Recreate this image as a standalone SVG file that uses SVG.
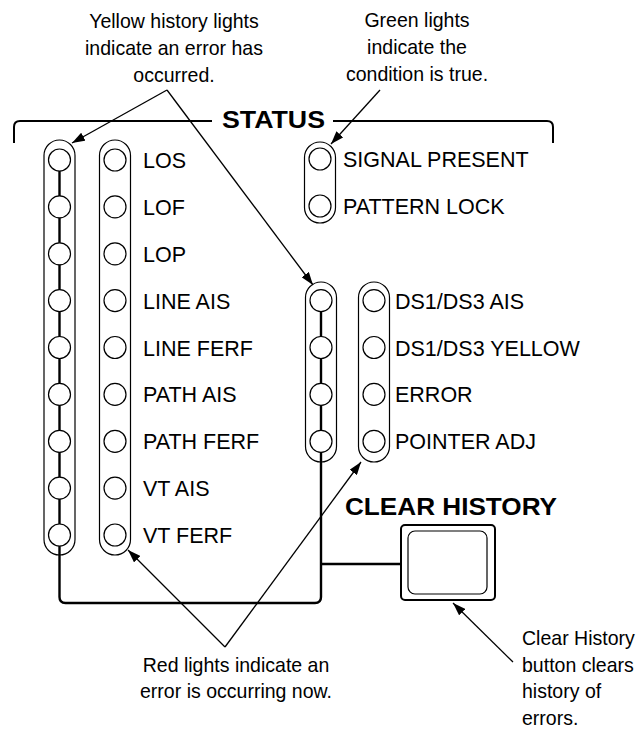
<svg xmlns="http://www.w3.org/2000/svg" width="636" height="731" viewBox="0 0 636 731">
<style>
text{font-family:"Liberation Sans",Arial,sans-serif;fill:#000}
.lbl{font-size:21.5px}
.ann{font-size:21px}
.hdr{font-size:23px;font-weight:bold}
.cap{fill:none;stroke:#000;stroke-width:1.2}
.led{fill:#fff;stroke:#000;stroke-width:1.2}
.wire{fill:none;stroke:#000;stroke-width:2.4}
.lead{fill:none;stroke:#000;stroke-width:1.3;marker-end:url(#ah)}
.frame{fill:none;stroke:#000;stroke-width:2}
</style>
<defs>
<marker id="ah" markerUnits="userSpaceOnUse" markerWidth="14" markerHeight="9" refX="13" refY="4.5" orient="auto">
<path d="M0,0 L13,4.5 L0,9 z" fill="#000"/>
</marker>
</defs>

<g id="status-frame">
<path class="frame" d="M14,143 V127 Q14,121 20,121 H212"/>
<path class="frame" d="M333,121 H547 Q553,121 553,127 V143"/>
<text class="hdr" x="222" y="128" textLength="103" lengthAdjust="spacingAndGlyphs">STATUS</text>
</g>

<g id="connectors">
<path class="wire" d="M59.5,160 V597 Q59.5,603 65.5,603 H315 Q321,603 321,597 V300.6"/>
<path class="wire" d="M321,564 H401"/>
<path class="lead" d="M167,90 L72,143"/>
<path class="lead" d="M167,90 L313,285"/>
<path class="lead" d="M380,90 L331,144"/>
<path class="lead" d="M225,647 L128,550"/>
<path class="lead" d="M225,647 L361,462"/>
<path class="lead" d="M513,662 L453,603"/>
</g>

<g id="yellow-history-left">
<rect class="cap" x="44" y="140" width="31" height="415" rx="15.5"/>
<circle class="led" cx="59.5" cy="160" r="11"/>
<circle class="led" cx="59.5" cy="206.9" r="11"/>
<circle class="led" cx="59.5" cy="253.8" r="11"/>
<circle class="led" cx="59.5" cy="300.6" r="11"/>
<circle class="led" cx="59.5" cy="347.5" r="11"/>
<circle class="led" cx="59.5" cy="394.4" r="11"/>
<circle class="led" cx="59.5" cy="441.3" r="11"/>
<circle class="led" cx="59.5" cy="488.1" r="11"/>
<circle class="led" cx="59.5" cy="535" r="11"/>
</g>

<g id="red-left">
<rect class="cap" x="99.5" y="140" width="31" height="415" rx="15.5"/>
<circle class="led" cx="115" cy="160" r="11"/>
<circle class="led" cx="115" cy="206.9" r="11"/>
<circle class="led" cx="115" cy="253.8" r="11"/>
<circle class="led" cx="115" cy="300.6" r="11"/>
<circle class="led" cx="115" cy="347.5" r="11"/>
<circle class="led" cx="115" cy="394.4" r="11"/>
<circle class="led" cx="115" cy="441.3" r="11"/>
<circle class="led" cx="115" cy="488.1" r="11"/>
<circle class="led" cx="115" cy="535" r="11"/>
<text class="lbl" x="143" y="168">LOS</text>
<text class="lbl" x="143" y="214.9">LOF</text>
<text class="lbl" x="143" y="261.8">LOP</text>
<text class="lbl" x="143" y="308.6">LINE AIS</text>
<text class="lbl" x="143" y="355.5">LINE FERF</text>
<text class="lbl" x="143" y="402.4">PATH AIS</text>
<text class="lbl" x="143" y="449.3">PATH FERF</text>
<text class="lbl" x="143" y="496.1">VT AIS</text>
<text class="lbl" x="143" y="543">VT FERF</text>
</g>

<g id="green">
<rect class="cap" x="304.5" y="142" width="31" height="81" rx="15.5"/>
<circle class="led" cx="320" cy="159" r="11"/>
<circle class="led" cx="320" cy="206" r="11"/>
<text class="lbl" x="343" y="167">SIGNAL PRESENT</text>
<text class="lbl" x="343" y="214">PATTERN LOCK</text>
</g>

<g id="yellow-history-mid">
<rect class="cap" x="305.5" y="282" width="31" height="180" rx="15.5"/>
<circle class="led" cx="321" cy="300.6" r="11"/>
<circle class="led" cx="321" cy="347.5" r="11"/>
<circle class="led" cx="321" cy="394.4" r="11"/>
<circle class="led" cx="321" cy="441.3" r="11"/>
</g>

<g id="red-mid">
<rect class="cap" x="358.5" y="282" width="31" height="180" rx="15.5"/>
<circle class="led" cx="374" cy="300.6" r="11"/>
<circle class="led" cx="374" cy="347.5" r="11"/>
<circle class="led" cx="374" cy="394.4" r="11"/>
<circle class="led" cx="374" cy="441.3" r="11"/>
<text class="lbl" x="395" y="308.6">DS1/DS3 AIS</text>
<text class="lbl" x="395" y="355.5">DS1/DS3 YELLOW</text>
<text class="lbl" x="395" y="402.4">ERROR</text>
<text class="lbl" x="395" y="449.3">POINTER ADJ</text>
</g>

<g id="clear-history">
<text class="hdr" x="345" y="515" textLength="212" lengthAdjust="spacingAndGlyphs">CLEAR HISTORY</text>
<rect x="401" y="525" width="94" height="75" rx="4" fill="#fff" stroke="#000" stroke-width="2"/>
<rect x="408" y="531" width="79" height="63" rx="7" fill="none" stroke="#000" stroke-width="1.2"/>
</g>

<g id="note-yellow" class="ann" text-anchor="middle">
<text class="ann" transform="translate(174,28) scale(0.93,1)">Yellow history lights</text>
<text class="ann" transform="translate(174,55) scale(0.93,1)">indicate an error has</text>
<text class="ann" transform="translate(174,82) scale(0.93,1)">occurred.</text>
</g>

<g id="note-green" text-anchor="middle">
<text class="ann" transform="translate(417,27) scale(0.93,1)">Green lights</text>
<text class="ann" transform="translate(417,54) scale(0.93,1)">indicate the</text>
<text class="ann" transform="translate(417,81) scale(0.93,1)">condition is true.</text>
</g>

<g id="note-red" text-anchor="middle">
<text class="ann" transform="translate(236,672) scale(0.93,1)">Red lights indicate an</text>
<text class="ann" transform="translate(236,698) scale(0.93,1)">error is occurring now.</text>
</g>

<g id="note-clear">
<text class="ann" transform="translate(522,645) scale(0.93,1)">Clear History</text>
<text class="ann" transform="translate(522,672) scale(0.93,1)">button clears</text>
<text class="ann" transform="translate(522,698) scale(0.93,1)">history of</text>
<text class="ann" transform="translate(522,725) scale(0.93,1)">errors.</text>
</g>
</svg>
